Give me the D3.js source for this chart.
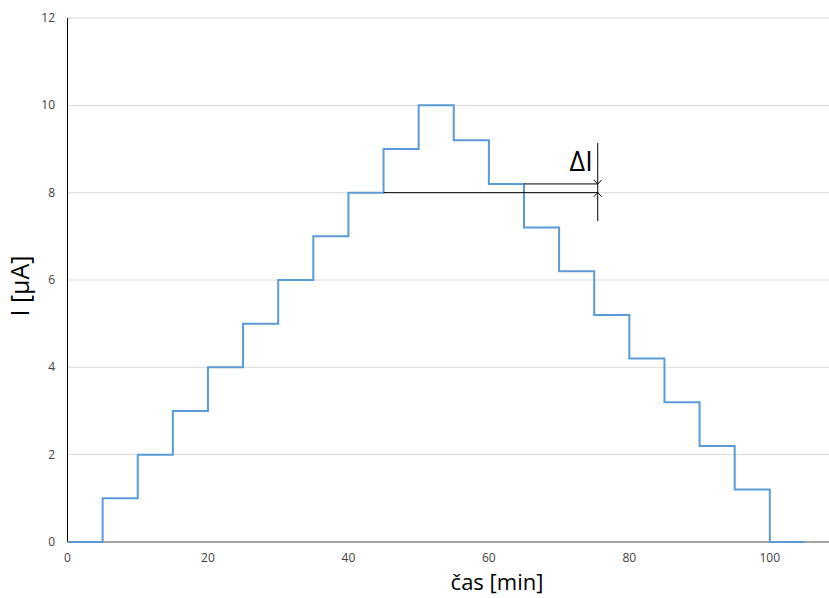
<!DOCTYPE html>
<html>
<head>
<meta charset="utf-8">
<script src="https://cdn.jsdelivr.net/npm/d3@7"></script>
<style>
  body { margin: 0; background: #fff; }
  text { font-family: "Open Sans", "Noto Sans", sans-serif; }
</style>
</head>
<body>
<div id="chart"></div>
<script>
// step starts (min) and current (uA)
const stepTimes = [0, 5, 10, 15, 20, 25, 30, 35, 40, 45, 50, 55, 60, 65, 70, 75, 80, 85, 90, 95, 100, 105];
const stepValues = [0, 1, 2, 3, 4, 5, 6, 7, 8, 9, 10, 9.2, 8.2, 7.2, 6.2, 5.2, 4.2, 3.2, 2.2, 1.2, 0, 0];
const xTicks = [0, 20, 40, 60, 80, 100];
const yTicks = [0, 2, 4, 6, 8, 10, 12];
// delta I annotation: baseline (from step 45) and next level (from step 65)
const deltaLow = { from: 45, value: 8 };
const deltaHigh = { from: 65, value: 8.2 };
const deltaX = 75.5;

let chart = { width: 829, height: 598 };

var svg = d3.select("#chart")
    .append("svg")
    .attr("width", chart.width)
    .attr("height", chart.height);

var xscale = d3.scaleLinear().domain([0, 108.5]).range([67.5, 829.5]);
var yscale = d3.scaleLinear().domain([0, 12]).range([542, 18]);

// gridlines
svg.append("g")
    .selectAll("line")
    .data(yTicks.filter(d => d > 0))
    .enter()
    .append("line")
    .attr("x1", xscale(0))
    .attr("x2", xscale(108.5))
    .attr("y1", d => yscale(d))
    .attr("y2", d => yscale(d))
    .attr("stroke", "#d9d9d9")
    .attr("stroke-width", 1);

// y axis line
svg.append("line")
    .attr("x1", xscale(0)).attr("x2", xscale(0))
    .attr("y1", yscale(12)).attr("y2", yscale(0))
    .attr("stroke", "#000");

// x axis line
svg.append("line")
    .attr("x1", xscale(0)).attr("x2", xscale(108.5))
    .attr("y1", yscale(0)).attr("y2", yscale(0))
    .attr("stroke", "#868686")
    .attr("stroke-width", 1.5);

// tick labels
svg.append("g")
    .selectAll("text")
    .data(yTicks)
    .enter()
    .append("text")
    .attr("x", 55)
    .attr("y", d => yscale(d) + 4)
    .attr("text-anchor", "end")
    .style("font-size", "12px")
    .style("fill", "#404040")
    .text(d => d);

svg.append("g")
    .selectAll("text")
    .data(xTicks)
    .enter()
    .append("text")
    .attr("x", d => xscale(d))
    .attr("y", 562)
    .attr("text-anchor", "middle")
    .style("font-size", "12px")
    .style("fill", "#404040")
    .text(d => d);

// step line
var data = stepTimes.map((t, i) => ({ t: t, v: stepValues[i] }));
var line = d3.line()
    .x(d => xscale(d.t))
    .y(d => yscale(d.v))
    .curve(d3.curveStepAfter);

svg.append("path")
    .datum(data)
    .attr("fill", "none")
    .attr("stroke", "#5b9bd5")
    .attr("stroke-width", 2)
    .attr("d", line);

// delta I annotation
var ann = svg.append("g").attr("stroke", "#000").attr("stroke-width", 1);
ann.append("line")
    .attr("x1", xscale(deltaLow.from)).attr("x2", xscale(deltaX))
    .attr("y1", yscale(deltaLow.value)).attr("y2", yscale(deltaLow.value));
ann.append("line")
    .attr("x1", xscale(deltaHigh.from)).attr("x2", xscale(deltaX))
    .attr("y1", yscale(deltaHigh.value)).attr("y2", yscale(deltaHigh.value));
ann.append("line")
    .attr("x1", xscale(deltaX)).attr("x2", xscale(deltaX))
    .attr("y1", 143).attr("y2", 221);

var ax = xscale(deltaX);
var yh = yscale(deltaHigh.value), yl = yscale(deltaLow.value);
ann.append("path")
    .attr("fill", "none")
    .attr("d", "M" + (ax - 4) + "," + (yh - 4) + "L" + ax + "," + yh + "L" + (ax + 4) + "," + (yh - 4));
ann.append("path")
    .attr("fill", "none")
    .attr("d", "M" + (ax - 4) + "," + (yl + 4) + "L" + ax + "," + yl + "L" + (ax + 4) + "," + (yl + 4));

svg.append("text")
    .attr("x", ax - 5)
    .attr("y", 171)
    .attr("text-anchor", "end")
    .style("font-size", "27px")
    .style("fill", "#000")
    .text("ΔI");

// axis titles
svg.append("text")
    .attr("transform", "translate(29, 286) rotate(-90)")
    .attr("text-anchor", "middle")
    .style("font-size", "25px")
    .style("fill", "#000")
    .text("I [µA]");

svg.append("text")
    .attr("x", 497)
    .attr("y", 590)
    .attr("text-anchor", "middle")
    .style("font-size", "22px")
    .style("fill", "#000")
    .text("čas [min]");
</script>
</body>
</html>
